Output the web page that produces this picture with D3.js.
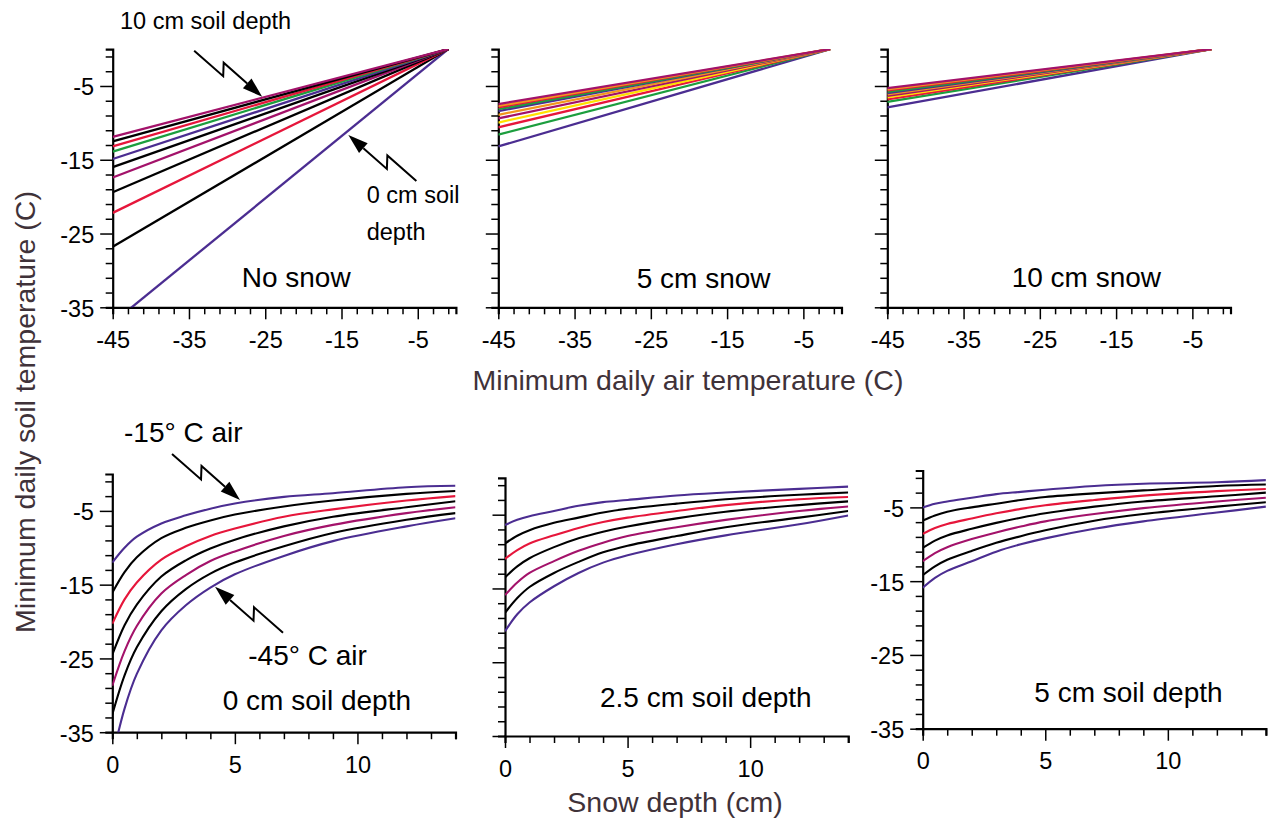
<!DOCTYPE html>
<html>
<head>
<meta charset="utf-8">
<script src="https://cdn.jsdelivr.net/npm/d3@7"></script>
<style>
  body { margin: 0; background: #fff; }
  text { font-family: "Liberation Sans", Arial, sans-serif; }
</style>
</head>
<body>
<svg id="chart" width="1268" height="818"></svg>
<script>
// ---- data ----
const depthsCm = [0, 1, 2, 3, 4, 5, 6, 7, 8, 9, 10];
// soil temperature at -45 C air, per soil depth (0..10 cm)
const noSnowAt45 = [-37.1, -26.8, -22.2, -19.4, -17.4, -16.0, -14.9, -13.9, -13.2, -12.5, -11.9];
const snow5At45 = [-13.2, -11.6, -10.6, -9.95, -9.4, -8.9, -8.4, -8.15, -7.9, -7.7, -7.45];
const snow10At45 = [-7.9, -7.15, -6.8, -6.55, -6.35, -6.15, -5.95, -5.8, -5.6, -5.45, -5.3];
// air temperature where all lines of a panel meet 0 C soil
const zeroAir = [-1, -1.5, -2.5];

const noSnowColors = ["#4b2d91", "#000", "#e6163b", "#000", "#a3126a", "#000", "#4b2d91", "#1c9e3e", "#e6163b", "#000", "#a3126a"];
const snowColors = ["#4b2d91", "#1c9e3e", "#e6163b", "#ffe100", "#a3126a", "#f2961d", "#4b2d91", "#1c9e3e", "#e6163b", "#f2961d", "#a3126a"];

const snowDepth = [0, 0.5, 1, 2, 3, 4, 5, 7, 9, 12, 14];
const airTemps = [-15, -20, -25, -30, -35, -40, -45];
const soil0cm = [
  [-12.0, -10.0, -8.5, -6.7, -5.6, -4.7, -4.0, -3.1, -2.6, -1.8, -1.6],
  [-16.1, -13.3, -11.3, -8.7, -7.3, -6.3, -5.5, -4.4, -3.6, -2.7, -2.3],
  [-20.3, -17.0, -14.7, -11.6, -9.8, -8.4, -7.4, -5.8, -4.8, -3.6, -3.0],
  [-24.5, -20.5, -17.7, -13.9, -11.7, -10.1, -8.9, -7.1, -5.8, -4.5, -3.7],
  [-28.7, -24.0, -20.6, -16.2, -13.7, -11.8, -10.5, -8.4, -6.9, -5.3, -4.5],
  [-32.6, -27.3, -23.5, -18.6, -15.6, -13.5, -12.0, -9.8, -8.0, -6.2, -5.3],
  [-38.5, -31.8, -27.1, -21.2, -17.8, -15.4, -13.6, -11.1, -9.1, -7.1, -6.0]
];
const soil25cm = [
  [-6.4, -5.7, -5.2, -4.5, -3.8, -3.3, -3.0, -2.4, -2.0, -1.5, -1.2],
  [-8.9, -7.85, -7.1, -6.1, -5.4, -4.7, -4.2, -3.5, -2.9, -2.3, -2.0],
  [-11.0, -9.8, -8.9, -7.8, -6.8, -6.0, -5.4, -4.5, -3.7, -2.9, -2.6],
  [-13.5, -12.0, -10.9, -9.4, -8.2, -7.3, -6.6, -5.5, -4.6, -3.7, -3.2],
  [-15.9, -14.2, -12.9, -11.3, -9.9, -8.8, -7.9, -6.7, -5.7, -4.5, -3.9],
  [-18.3, -16.3, -14.8, -12.9, -11.4, -10.1, -9.2, -7.9, -6.7, -5.4, -4.5],
  [-20.8, -18.5, -16.9, -14.7, -12.9, -11.5, -10.5, -9.0, -7.8, -6.3, -5.1]
];
const soil5cm = [
  [-5.0, -4.5, -4.2, -3.7, -3.2, -2.9, -2.6, -2.1, -1.8, -1.6, -1.3],
  [-6.8, -6.1, -5.6, -5.0, -4.5, -4.0, -3.6, -3.1, -2.7, -2.1, -1.9],
  [-8.6, -7.8, -7.25, -6.5, -5.8, -5.2, -4.7, -4.0, -3.4, -2.8, -2.5],
  [-10.5, -9.5, -8.8, -7.9, -7.1, -6.4, -5.8, -4.9, -4.2, -3.5, -3.0],
  [-12.3, -11.2, -10.4, -9.3, -8.4, -7.6, -6.9, -5.9, -5.1, -4.2, -3.7],
  [-14.2, -13.0, -12.1, -10.9, -9.8, -8.9, -8.1, -6.8, -5.9, -4.9, -4.3],
  [-15.9, -14.55, -13.6, -12.3, -11.0, -10.0, -9.2, -7.9, -6.9, -5.7, -4.9]
];
const airColors = ["#4b2d91", "#000", "#e6163b", "#000", "#a3126a", "#000", "#4b2d91"];

const airTicks = d3.range(-45, 0, 2);
const airMajor = [-45, -35, -25, -15, -5];
const snowTicks = d3.range(0, 15, 1);
const snowMajor = [0, 5, 10];
const soilTicks = d3.range(-35, 0, 2);
const soilMajor = [-35, -25, -15, -5];

// ---- layout ----
const svg = d3.select("#chart");
const W = 343.2, H = 258.2;
const font = "Liberation Sans, Arial, sans-serif";

function panel(left, top, xDomain, xTicks, xMajor, showY, id) {
  const g = svg.append("g").attr("transform", `translate(${left},${top})`);
  const x = d3.scaleLinear().domain(xDomain).range([0, W]);
  const y = d3.scaleLinear().domain([-35, 0]).range([H, 0]);

  g.append("clipPath").attr("id", id)
    .append("rect").attr("width", W).attr("height", H);

  const xa = g.append("g").attr("transform", `translate(0,${H})`)
    .call(d3.axisBottom(x).tickValues(xTicks).tickSizeOuter(0).tickSize(7)
      .tickFormat(d => xMajor.includes(d) ? String(d) : ""));
  xa.selectAll(".tick line").attr("y2", d => xMajor.includes(d) ? 12 : 7);
  xa.selectAll(".tick text").attr("y", 40.5).attr("dy", 0);

  const ya = g.append("g")
    .call(d3.axisLeft(y).tickValues(soilTicks).tickSizeOuter(0).tickSize(7)
      .tickFormat(d => showY && soilMajor.includes(d) ? String(d) : ""));
  ya.selectAll(".tick line").attr("x2", d => soilMajor.includes(d) ? -12.5 : -7);
  ya.selectAll(".tick text").attr("x", -18.5).attr("dy", "0.38em");

  [xa, ya].forEach(a => {
    a.attr("font-family", font).attr("font-size", 23.5);
    a.select(".domain").attr("stroke-width", 2.2);
    a.selectAll(".tick line").attr("stroke-width", 1.5);
    a.selectAll(".tick text").attr("fill", "#000");
  });

  const plot = g.append("g").attr("clip-path", `url(#${id})`);
  return { g, x, y, plot };
}

function airPanel(left, top, at45, endAir, colors, id, showY) {
  const p = panel(left, top, [-45, 0], airTicks, airMajor, showY, id);
  const line = d3.line().x(d => p.x(d[0])).y(d => p.y(d[1]));
  p.plot.selectAll("path.l")
    .data(depthsCm)
    .join("path")
    .attr("class", "l")
    .attr("d", i => line([[-45, at45[i]], [endAir, 0]]))
    .attr("fill", "none")
    .attr("stroke", i => colors[i])
    .attr("stroke-width", 2.3);
  return p;
}

function snowPanel(left, top, rows, id, showY) {
  const p = panel(left, top, [0, 14], snowTicks, snowMajor, showY, id);
  const line = d3.line()
    .x((d, i) => p.x(snowDepth[i]))
    .y(d => p.y(d))
    .curve(d3.curveCatmullRom.alpha(0.5));
  p.plot.selectAll("path.l")
    .data(rows)
    .join("path")
    .attr("class", "l")
    .attr("d", d => line(d))
    .attr("fill", "none")
    .attr("stroke", (d, i) => airColors[i])
    .attr("stroke-width", 2.1);
  return p;
}

const pA = airPanel(112.7, 49.1, noSnowAt45, zeroAir[0], noSnowColors, "cA", true);
const pB = airPanel(498.3, 49.1, snow5At45, zeroAir[1], snowColors, "cB", false);
const pC = airPanel(887.3, 49.1, snow10At45, zeroAir[2], snowColors, "cC", false);
const pD = snowPanel(112.3, 474, soil0cm, "cD", true);
const pE = snowPanel(505, 477.8, soil25cm, "cE", false);
const pF = snowPanel(922.7, 470.5, soil5cm, "cF", true);

// ---- texts ----
function label(txt, x, y, size, opts = {}) {
  return svg.append("text")
    .attr("x", x).attr("y", y)
    .attr("font-size", size)
    .attr("fill", opts.fill || "#000")
    .attr("text-anchor", opts.anchor || "start")
    .text(txt);
}

label("No snow", 241.7, 286.7, 28);
label("5 cm snow", 636.7, 288.3, 28);
label("10 cm snow", 1011.7, 286.7, 28);
label("0 cm soil depth", 222.7, 710, 28);
label("2.5 cm soil depth", 600, 707.3, 28);
label("5 cm soil depth", 1034.3, 701.7, 28);

label("10 cm soil depth", 120, 29, 23.5);
label("0 cm soil", 366.7, 202.7, 23.5);
label("depth", 366.7, 240, 23.5);
label("-15\u00b0 C air", 124, 441.7, 28);
label("-45\u00b0 C air", 248.3, 665, 28);

const titleColor = "#3f3239";
label("Minimum daily air temperature (C)", 688, 390, 28.5, { anchor: "middle", fill: titleColor });
label("Snow depth (cm)", 675, 812, 28.5, { anchor: "middle", fill: titleColor });
svg.append("text")
  .attr("transform", "translate(35,412) rotate(-90)")
  .attr("text-anchor", "middle")
  .attr("font-size", 28.5)
  .attr("fill", titleColor)
  .text("Minimum daily soil temperature (C)");

// ---- zigzag arrows (tip placed in data coords, shape in px) ----
function arrow(p, xv, yv, dir) {
  const tx = p.x(xv), ty = p.y(yv);
  const pts = [[-68, -46], [-39, -20.5], [-38.5, -34]].map(([a, b]) => [a * dir, b * dir]);
  const g = p.g.append("g").attr("transform", `translate(${tx},${ty})`);
  const last = pts[2];
  const len = Math.hypot(last[0], last[1]);
  const ux = -last[0] / len, uy = -last[1] / len;
  const hl = 20, hw = 6.5;
  const bx = -ux * hl, by = -uy * hl;
  g.append("path")
    .attr("d", d3.line()([...pts, [bx, by]]))
    .attr("fill", "none").attr("stroke", "#000").attr("stroke-width", 2);
  g.append("path")
    .attr("d", d3.line()([[0, 0], [bx - uy * hw, by + ux * hw], [bx + uy * hw, by - ux * hw]]) + "Z")
    .attr("fill", "#000");
}

arrow(pA, -25.4, -6.45, 1);
arrow(pA, -14.1, -11.64, -1);
arrow(pD, 5.21, -3.52, 1);
arrow(pD, 4.19, -15.28, -1);
</script>
</body>
</html>
